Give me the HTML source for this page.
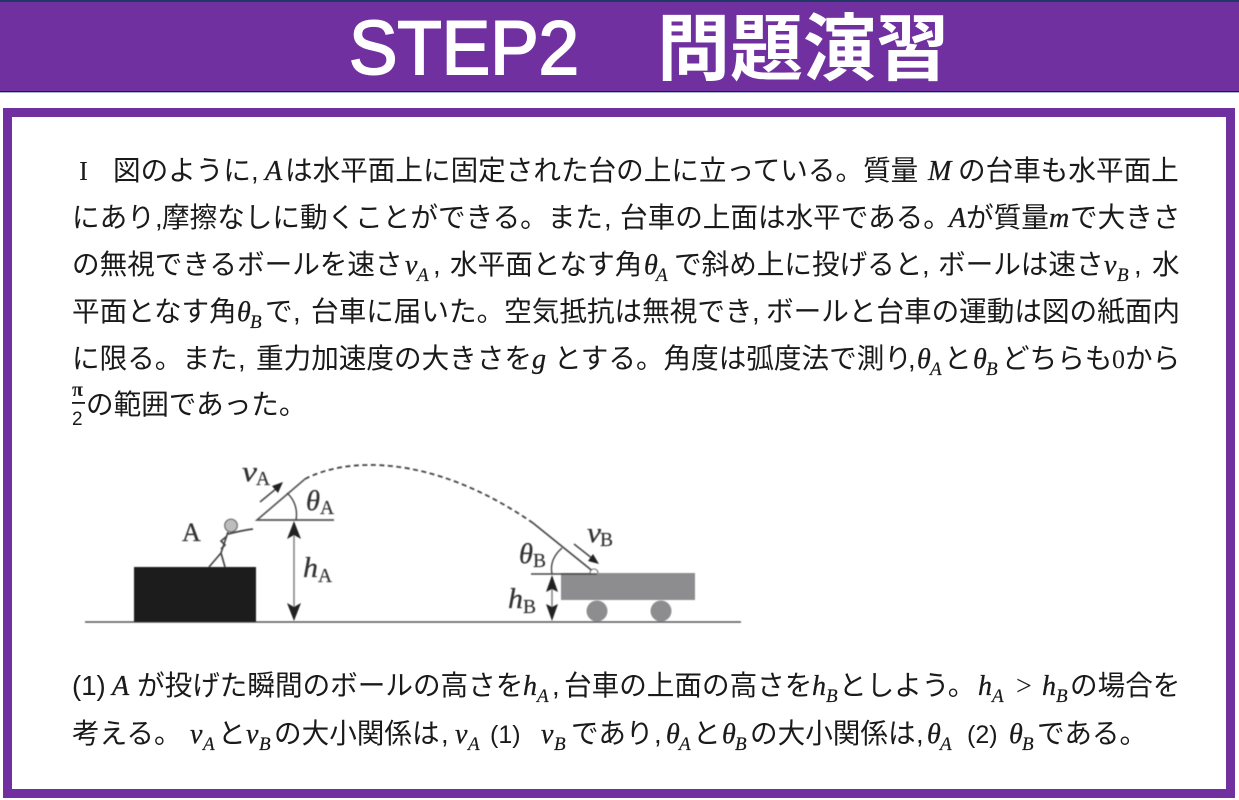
<!DOCTYPE html>
<html lang="ja">
<head>
<meta charset="utf-8">
<title>STEP2 問題演習</title>
<style>
html,body{margin:0;padding:0;background:#fff;width:1239px;height:800px;overflow:hidden}
svg{display:block}
.t{font-family:"Liberation Sans","Noto Sans CJK JP",sans-serif;font-size:27.6px;fill:#1a1a1a}
.m{font-family:"Liberation Serif",serif;font-style:italic;font-size:28px;fill:#1a1a1a;stroke:#1a1a1a;stroke-width:.3px}
.s{font-family:"Liberation Serif",serif;font-style:italic;font-size:19px;fill:#1a1a1a;stroke:#1a1a1a;stroke-width:.2px}
.r{font-family:"Liberation Serif",serif;font-size:26px;fill:#1a1a1a}
.dm{font-family:"Liberation Serif",serif;font-style:italic;font-size:28px;fill:#333;stroke:#333;stroke-width:.3px}
.ds{font-family:"Liberation Serif",serif;font-size:19.5px;fill:#333;stroke:#333;stroke-width:.2px}
</style>
</head>
<body>
<svg width="1239" height="800" viewBox="0 0 1239 800" xmlns="http://www.w3.org/2000/svg">
<defs>
<filter id="b" x="-5%" y="-5%" width="110%" height="110%"><feGaussianBlur stdDeviation="0.45"/></filter>
</defs>

<!-- header -->
<rect x="0" y="0" width="1239" height="2" fill="#1f3864"/>
<rect x="0" y="2" width="1239" height="89" fill="#7030a0"/>
<rect x="0" y="91" width="1239" height="1" fill="#1a1a50"/>
<rect x="0" y="92" width="1239" height="1" fill="#aab4cc"/>
<text x="349" y="74" font-family="Liberation Sans,sans-serif" font-size="76" fill="#fff" stroke="#fff" stroke-width="2" textLength="230" lengthAdjust="spacingAndGlyphs">STEP2</text>
<text x="657" y="74" font-family="'Noto Sans CJK JP',sans-serif" font-weight="700" font-size="73" fill="#fff">問題演習</text>

<!-- frame -->
<rect x="7.5" y="112.5" width="1223" height="681" fill="#fff" stroke="#7030a0" stroke-width="9"/>

<!-- line 1 -->
<text x="79" y="180" font-family="Liberation Serif,serif" font-size="27" fill="#1a1a1a">I</text>
<text class="t" x="113" y="180">図のように</text>
<text class="t" x="251" y="180">,</text>
<text class="m" x="265" y="180">A</text>
<text class="t" x="285" y="180">は水平面上に固定された台の上に立っている。質量</text>
<text class="m" x="928" y="180">M</text>
<text class="t" x="958" y="180">の台車も水平面上</text>

<!-- line 2 -->
<text class="t" x="72" y="227">にあり</text>
<text class="t" x="155" y="227">,</text>
<text class="t" x="162" y="227">摩擦なしに動くことができる。また</text>
<text class="t" x="604" y="227">,</text>
<text class="t" x="620" y="227">台車の上面は水平である。</text>
<text class="m" x="949" y="227">A</text>
<text class="t" x="966" y="227">が質量</text>
<text class="m" x="1049" y="227">m</text>
<text class="t" x="1070" y="227">で大きさ</text>

<!-- line 3 -->
<text class="t" x="72" y="274">の無視できるボールを速さ</text>
<text class="m" x="405" y="274">v</text><text class="s" x="417" y="281">A</text>
<text class="t" x="433" y="274">,</text>
<text class="t" x="450" y="274">水平面となす角</text>
<text class="m" x="644" y="274">θ</text><text class="s" x="656" y="281">A</text>
<text class="t" x="674" y="274">で斜め上に投げると</text>
<text class="t" x="922" y="274">,</text>
<text class="t" x="938" y="274">ボールは速さ</text>
<text class="m" x="1104" y="274">v</text><text class="s" x="1117" y="281">B</text>
<text class="t" x="1134" y="274">,</text>
<text class="t" x="1152" y="274">水</text>

<!-- line 4 -->
<text class="t" x="72" y="321">平面となす角</text>
<text class="m" x="237" y="321">θ</text><text class="s" x="250" y="328">B</text>
<text class="t" x="265" y="321">で</text>
<text class="t" x="293" y="321">,</text>
<text class="t" x="311" y="321">台車に届いた。空気抵抗は無視でき</text>
<text class="t" x="752" y="321">,</text>
<text class="t" x="766" y="321">ボールと台車の運動は図の紙面内</text>

<!-- line 5 -->
<text class="t" x="72" y="368">に限る。また</text>
<text class="t" x="238" y="368">,</text>
<text class="t" x="256" y="368">重力加速度の大きさを</text>
<text class="m" x="532" y="368">g</text>
<text class="t" x="554" y="368">とする。角度は弧度法で測り</text>
<text class="t" x="908" y="368">,</text>
<text class="m" x="917" y="368">θ</text><text class="s" x="930" y="375">A</text>
<text class="t" x="944" y="368">と</text>
<text class="m" x="973" y="368">θ</text><text class="s" x="986" y="375">B</text>
<text class="t" x="1002" y="368">どちらも</text>
<text class="r" x="1112" y="368">0</text>
<text class="t" x="1125" y="368">から</text>

<!-- line 6 -->
<text x="72" y="396" font-family="Liberation Serif,serif" font-weight="700" font-size="20" fill="#1a1a1a">π</text>
<rect x="72" y="402" width="13" height="1.8" fill="#1a1a1a"/>
<text x="72" y="425" font-family="Liberation Sans,sans-serif" font-size="19" fill="#1a1a1a">2</text>
<text class="t" x="86" y="414">の範囲であった。</text>

<!-- diagram -->
<g filter="url(#b)">
  <line x1="85" y1="622" x2="741" y2="622" stroke="#555" stroke-width="1.6"/>
  <rect x="134" y="567" width="122" height="55" fill="#1e1c1d"/>
  <!-- figure -->
  <circle cx="231" cy="525.5" r="6.3" fill="#bdbdbd" stroke="#666" stroke-width="1.2"/>
  <path d="M228 532 L221 553 M221 553 L209 567 M221 553 L225 567 M228 534 C236 532 245 530 253 529 M227 536 L221 541 L225 545 L221 549" fill="none" stroke="#444" stroke-width="1.7"/>
  <!-- launch -->
  <path d="M334 520 H257 L305 479" fill="none" stroke="#555" stroke-width="1.7"/>
  <path d="M287 493 C294 499 298 509 296 520" fill="none" stroke="#444" stroke-width="1.4"/>
  <line x1="260" y1="502" x2="277" y2="488" stroke="#444" stroke-width="1.5"/>
  <polygon points="283,482 278,493 272,486" fill="#222"/>
  <!-- hA -->
  <line x1="294" y1="525" x2="294" y2="618" stroke="#888" stroke-width="1.6"/>
  <polygon points="294,521 301,539 294,535 287,539" fill="#222"/>
  <polygon points="294,621 301,603 294,607 287,603" fill="#222"/>
  <!-- trajectory -->
  <path d="M305 479 C345 458 430 452 533 523" fill="none" stroke="#444" stroke-width="1.8" stroke-dasharray="5 3.5"/>
  <line x1="533" y1="523" x2="595" y2="573" stroke="#444" stroke-width="1.7"/>
  <!-- cart -->
  <rect x="561" y="573" width="134" height="27" fill="#8d8d8f"/>
  <circle cx="597" cy="611" r="10.5" fill="#8d8d8f"/>
  <circle cx="661" cy="611" r="10.5" fill="#8d8d8f"/>
  <line x1="531" y1="574" x2="597" y2="574" stroke="#444" stroke-width="1.5"/>
  <path d="M590 573 A4 4 0 0 1 598 573" fill="#fff" stroke="#555" stroke-width="1.1"/>
  <path d="M562 548 C554 555 550 564 552 574" fill="none" stroke="#444" stroke-width="1.4"/>
  <line x1="574" y1="544" x2="593" y2="559" stroke="#444" stroke-width="1.5"/>
  <polygon points="599,564 588,561 593,554" fill="#222"/>
  <!-- hB -->
  <line x1="552" y1="578" x2="552" y2="618" stroke="#888" stroke-width="1.6"/>
  <polygon points="552,575 558,592 552,589 546,592" fill="#222"/>
  <polygon points="552,621 558,604 552,607 546,604" fill="#222"/>
  <!-- labels -->
  <text class="dm" x="242" y="481" textLength="15" lengthAdjust="spacingAndGlyphs">v</text><text class="ds" x="256" y="485">A</text>
  <text class="dm" x="306" y="510" textLength="14" lengthAdjust="spacingAndGlyphs">θ</text><text class="ds" x="320" y="514">A</text>
  <text x="182" y="541" font-family="Liberation Serif,serif" font-size="26" fill="#333" stroke="#333" stroke-width=".3">A</text>
  <text class="dm" x="303" y="577" textLength="15" lengthAdjust="spacingAndGlyphs">h</text><text class="ds" x="318" y="582">A</text>
  <text class="dm" x="587" y="542" textLength="14" lengthAdjust="spacingAndGlyphs">v</text><text class="ds" x="600" y="546">B</text>
  <text class="dm" x="519" y="563" textLength="14" lengthAdjust="spacingAndGlyphs">θ</text><text class="ds" x="533" y="567">B</text>
  <text class="dm" x="508" y="608" textLength="15" lengthAdjust="spacingAndGlyphs">h</text><text class="ds" x="523" y="613">B</text>
</g>

<!-- line 7 -->
<text class="t" x="72" y="695">(1)</text>
<text class="m" x="112" y="695">A</text>
<text class="t" x="137" y="695">が投げた瞬間のボールの高さを</text>
<text class="m" x="523" y="695">h</text><text class="s" x="537" y="702">A</text>
<text class="t" x="552" y="695">,</text>
<text class="t" x="564" y="695">台車の上面の高さを</text>
<text class="m" x="812" y="695">h</text><text class="s" x="826" y="702">B</text>
<text class="t" x="839" y="695">としよう。</text>
<text class="m" x="978" y="695">h</text><text class="s" x="992" y="702">A</text>
<text class="r" x="1016" y="695" font-size="28" style="font-size:28px">&gt;</text>
<text class="m" x="1042" y="695">h</text><text class="s" x="1056" y="702">B</text>
<text class="t" x="1070" y="695">の場合を</text>

<!-- line 8 -->
<text class="t" x="72" y="743">考える。</text>
<text class="m" x="190" y="743">v</text><text class="s" x="203" y="750">A</text>
<text class="t" x="218" y="743">と</text>
<text class="m" x="246" y="743">v</text><text class="s" x="259" y="750">B</text>
<text class="t" x="274" y="743">の大小関係は</text>
<text class="t" x="441" y="743">,</text>
<text class="m" x="455" y="743">v</text><text class="s" x="468" y="750">A</text>
<text x="490" y="743" font-family="Liberation Sans,sans-serif" font-size="25" fill="#1a1a1a">(1)</text>
<text class="m" x="541" y="743">v</text><text class="s" x="554" y="750">B</text>
<text class="t" x="571" y="743">であり</text>
<text class="t" x="654" y="743">,</text>
<text class="m" x="666" y="743">θ</text><text class="s" x="679" y="750">A</text>
<text class="t" x="693" y="743">と</text>
<text class="m" x="722" y="743">θ</text><text class="s" x="735" y="750">B</text>
<text class="t" x="750" y="743">の大小関係は</text>
<text class="t" x="916" y="743">,</text>
<text class="m" x="927" y="743">θ</text><text class="s" x="940" y="750">A</text>
<text x="967" y="743" font-family="Liberation Sans,sans-serif" font-size="25" fill="#1a1a1a">(2)</text>
<text class="m" x="1009" y="743">θ</text><text class="s" x="1022" y="750">B</text>
<text class="t" x="1037" y="743">である。</text>
</svg>
</body>
</html>
